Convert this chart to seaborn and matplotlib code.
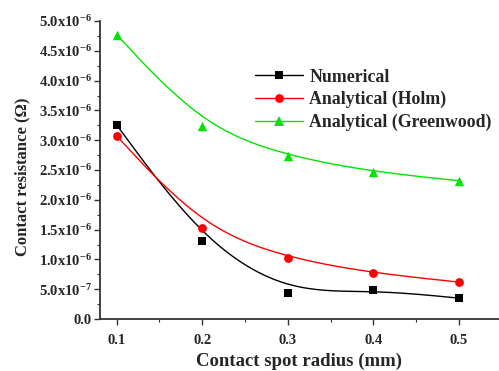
import numpy as np
import pandas as pd
import matplotlib
matplotlib.use("Agg")
import matplotlib.pyplot as plt
from matplotlib.lines import Line2D
from matplotlib.ticker import FixedLocator, MultipleLocator, FixedFormatter
import seaborn as sns

# ---- data ----
radius = [0.1, 0.2, 0.3, 0.4, 0.5]
numerical = [3.255e-6, 1.31e-6, 0.43e-6, 0.49e-6, 0.35e-6]
holm = [3.07e-6, 1.53e-6, 1.02e-6, 0.77e-6, 0.62e-6]
greenwood = [4.77e-6, 3.23e-6, 2.73e-6, 2.47e-6, 2.32e-6]
series_names = ["Numerical", "Analytical (Holm)", "Analytical (Greenwood)"]
y_ticks = [0.0, 0.5e-6, 1.0e-6, 1.5e-6, 2.0e-6, 2.5e-6, 3.0e-6, 3.5e-6, 4.0e-6, 4.5e-6, 5.0e-6]
y_tick_labels = ["0.0", "5.0x10$^{-7}$", "1.0x10$^{-6}$", "1.5x10$^{-6}$", "2.0x10$^{-6}$",
                 "2.5x10$^{-6}$", "3.0x10$^{-6}$", "3.5x10$^{-6}$", "4.0x10$^{-6}$",
                 "4.5x10$^{-6}$", "5.0x10$^{-6}$"]
x_ticks = [0.1, 0.2, 0.3, 0.4, 0.5]
x_tick_labels = ["0.1", "0.2", "0.3", "0.4", "0.5"]

sns.set_style("ticks")
plt.rcParams["font.family"] = ["Liberation Serif", "DejaVu Serif"]
plt.rcParams["font.weight"] = "bold"
plt.rcParams["mathtext.default"] = "regular"


def bspline(px, py, per_seg=60):
    """Uniform cubic B-spline through the end points (end points tripled),
    using the data points as control points."""
    P = np.column_stack([px, py]).astype(float)
    P = np.vstack([P[0], P[0], P, P[-1], P[-1]])
    M = np.array([[-1, 3, -3, 1],
                  [3, -6, 3, 0],
                  [-3, 0, 3, 0],
                  [1, 4, 1, 0]], float) / 6.0
    s = np.linspace(0, 1, per_seg)
    S = np.column_stack([s ** 3, s ** 2, s, np.ones_like(s)])
    pts = []
    for i in range(len(P) - 3):
        seg = S @ M @ P[i:i + 4]
        pts.append(seg if i == 0 else seg[1:])
    pts = np.vstack(pts)
    return pts[:, 0], pts[:, 1]


colors = ["#000000", "#ff0000", "#00e600"]
markers = ["s", "o", "^"]
msizes = [32, 40, 46]
all_y = [numerical, holm, greenwood]

fig = plt.figure(figsize=(4.99, 3.71), dpi=100)
ax = fig.add_axes([100 / 499, 52 / 371, 399 / 499, 298 / 371])

for name, ys, c, mk, ms in zip(series_names, all_y, colors, markers, msizes):
    cx, cy = bspline(radius, ys)
    sns.lineplot(x=cx, y=cy, sort=False, estimator=None, color=c, linewidth=1.0, ax=ax)
    sns.scatterplot(x=radius, y=ys, marker=mk, color=c, s=ms, edgecolor=c, linewidth=0, ax=ax, zorder=3)

ax.set_xlim(0.0805, 0.547)
ax.set_ylim(0, 5.0e-6)
ax.xaxis.set_major_locator(FixedLocator(x_ticks))
ax.xaxis.set_major_formatter(FixedFormatter(x_tick_labels))
ax.xaxis.set_minor_locator(MultipleLocator(0.05))
ax.yaxis.set_major_locator(FixedLocator(y_ticks))
ax.yaxis.set_major_formatter(FixedFormatter(y_tick_labels))
ax.yaxis.set_minor_locator(MultipleLocator(0.25e-6))
ax.yaxis.get_offset_text().set_visible(False)

ax.tick_params(axis="both", which="major", direction="out", length=4, width=1.0,
               labelsize=10.5, color="#333333")
ax.tick_params(axis="both", which="minor", direction="out", length=2.5, width=0.8, color="#333333")
ax.tick_params(axis="x", which="major", pad=7)
ax.tick_params(axis="y", which="major", pad=2)
for lab in ax.get_xticklabels() + ax.get_yticklabels():
    lab.set_fontweight("bold")

sns.despine(ax=ax)
for sp in ["left", "bottom"]:
    ax.spines[sp].set_linewidth(1.3)
    ax.spines[sp].set_color("#333333")

ax.set_xlabel("Contact spot radius (mm)", fontsize=13.5, fontweight="bold")
ax.set_ylabel("Contact resistance (Ω)", fontsize=12, fontweight="bold")
ax.xaxis.set_label_coords(0.5, -0.112)
ax.yaxis.set_label_coords(-0.175, 0.476)

handles = [Line2D([], [], color=c, marker=mk, markersize=ms ** 0.5, linewidth=1.0,
                  markeredgewidth=0)
           for c, mk, ms in zip(colors, markers, msizes)]
ax.legend(handles, series_names, loc="upper left", bbox_to_anchor=(0.3885, 0.84),
          frameon=False, borderpad=0, borderaxespad=0, handlelength=2.7,
          handletextpad=0.35, labelspacing=0.3,
          prop={"family": "Liberation Serif", "weight": "bold", "size": 12.8})

fig.savefig("out.png", dpi=100)
